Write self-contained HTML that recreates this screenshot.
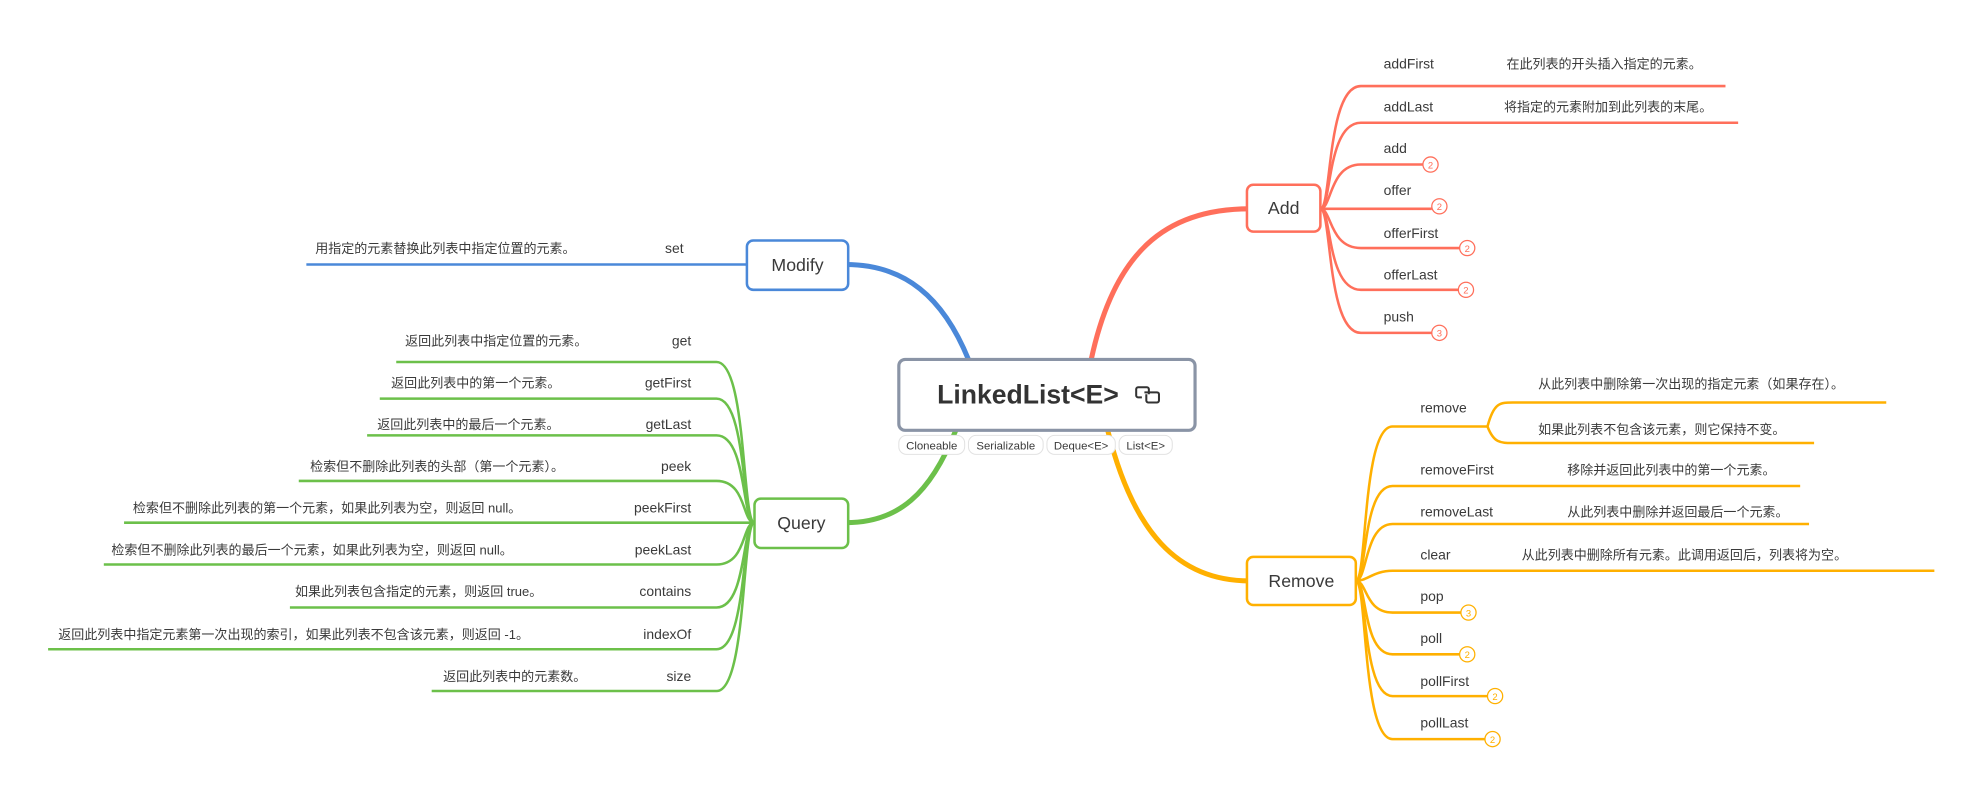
<!DOCTYPE html>
<html><head><meta charset="utf-8"><style>
html,body{margin:0;padding:0;background:#fff;width:1985px;height:791px;overflow:hidden}
svg{display:block}
text{font-family:"Liberation Sans","Noto Sans CJK SC",sans-serif;fill:#3a3a3a}
.l{font-size:11px}
.d{font-size:10.3px}
.b{font-size:7.5px;text-anchor:middle}
</style></head><body>
<svg width="1985" height="791" viewBox="0 0 1568 625" preserveAspectRatio="none" xmlns="http://www.w3.org/2000/svg">
<!-- main branches -->
<path d="M862,284 C880,200 920,165 987,165" stroke="#FF6F5B" stroke-width="4" fill="none"/>
<path d="M875,340 C895,420 930,459 987,459" stroke="#FFB000" stroke-width="4" fill="none"/>
<path d="M765,284 C745,235 715,209 668,209" stroke="#4A88D9" stroke-width="4" fill="none"/>
<path d="M755,340 C735,390 710,413 668,413" stroke="#6CC04A" stroke-width="4" fill="none"/>

<!-- Add children -->
<g stroke="#FF6F5B" stroke-width="2" fill="none">
<path d="M1043,165 C1052,165 1048,68 1075,68 L1363,68"/>
<path d="M1043,165 C1052,165 1048,97 1075,97 L1373,97"/>
<path d="M1043,165 C1052,165 1050,130 1075,130 L1124,130"/>
<path d="M1043,165 L1131,165"/>
<path d="M1043,165 C1052,165 1050,196 1075,196 L1153,196"/>
<path d="M1043,165 C1052,165 1048,229 1075,229 L1152,229"/>
<path d="M1043,165 C1052,165 1048,263 1075,263 L1131,263"/>
</g>
<g stroke="#FF6F5B" stroke-width="1" fill="#fff">
<circle cx="1130" cy="130" r="6"/><circle cx="1137" cy="163" r="6"/><circle cx="1159" cy="196" r="6"/><circle cx="1158" cy="229" r="6"/><circle cx="1137" cy="263" r="6"/>
</g>
<text class="b" x="1130" y="133" style="fill:#FF6F5B">2</text><text class="b" x="1137" y="166" style="fill:#FF6F5B">2</text><text class="b" x="1159" y="199" style="fill:#FF6F5B">2</text><text class="b" x="1158" y="232" style="fill:#FF6F5B">2</text><text class="b" x="1137" y="266" style="fill:#FF6F5B">3</text>
<text class="l" x="1093" y="54">addFirst</text><text class="d" x="1190" y="54">在此列表的开头插入指定的元素。</text>
<text class="l" x="1093" y="88">addLast</text><text class="d" x="1188" y="88">将指定的元素附加到此列表的末尾。</text>
<text class="l" x="1093" y="121">add</text>
<text class="l" x="1093" y="154">offer</text>
<text class="l" x="1093" y="188">offerFirst</text>
<text class="l" x="1093" y="221">offerLast</text>
<text class="l" x="1093" y="254">push</text>
<rect x="985" y="146" width="58" height="37" rx="5" fill="#fff" stroke="#FF6F5B" stroke-width="2"/>
<text x="1014" y="169" text-anchor="middle" style="font-size:14px">Add</text>

<!-- Remove children -->
<g stroke="#FFB000" stroke-width="2" fill="none">
<path d="M1071,459 C1080,459 1076,337 1100,337 L1175,337"/>
<path d="M1175,337 C1180,318 1185,318 1195,318 L1490,318"/>
<path d="M1175,337 C1180,350 1185,350 1195,350 L1433,350"/>
<path d="M1071,459 C1080,459 1076,384 1100,384 L1422,384"/>
<path d="M1071,459 C1080,459 1078,414 1100,414 L1429,414"/>
<path d="M1071,459 C1080,459 1085,451 1100,451 L1528,451"/>
<path d="M1071,459 C1080,459 1078,484 1100,484 L1154,484"/>
<path d="M1071,459 C1080,459 1076,517 1100,517 L1153,517"/>
<path d="M1071,459 C1080,459 1076,550 1100,550 L1175,550"/>
<path d="M1071,459 C1080,459 1076,584 1100,584 L1173,584"/>
</g>
<g stroke="#FFB000" stroke-width="1" fill="#fff">
<circle cx="1160" cy="484" r="6"/><circle cx="1159" cy="517" r="6"/><circle cx="1181" cy="550" r="6"/><circle cx="1179" cy="584" r="6"/>
</g>
<text class="b" x="1160" y="487" style="fill:#FFB000">3</text><text class="b" x="1159" y="520" style="fill:#FFB000">2</text><text class="b" x="1181" y="553" style="fill:#FFB000">2</text><text class="b" x="1179" y="587" style="fill:#FFB000">2</text>
<text class="l" x="1122" y="326">remove</text>
<text class="d" x="1215" y="307">从此列表中删除第一次出现的指定元素（如果存在）。</text>
<text class="d" x="1215" y="343">如果此列表不包含该元素，则它保持不变。</text>
<text class="l" x="1122" y="375">removeFirst</text><text class="d" x="1238" y="375">移除并返回此列表中的第一个元素。</text>
<text class="l" x="1122" y="408">removeLast</text><text class="d" x="1238" y="408">从此列表中删除并返回最后一个元素。</text>
<text class="l" x="1122" y="442">clear</text><text class="d" x="1202" y="442">从此列表中删除所有元素。此调用返回后，列表将为空。</text>
<text class="l" x="1122" y="475">pop</text>
<text class="l" x="1122" y="508">poll</text>
<text class="l" x="1122" y="542">pollFirst</text>
<text class="l" x="1122" y="575">pollLast</text>
<rect x="985" y="440" width="86" height="38" rx="5" fill="#fff" stroke="#FFB000" stroke-width="2"/>
<text x="1028" y="464" text-anchor="middle" style="font-size:14px">Remove</text>

<!-- Modify -->
<path d="M590,209 L242,209" stroke="#4A88D9" stroke-width="2" fill="none"/>
<text class="l" x="540" y="200" text-anchor="end">set</text>
<text class="d" x="249" y="200">用指定的元素替换此列表中指定位置的元素。</text>
<rect x="590" y="190" width="80" height="39" rx="5" fill="#fff" stroke="#4A88D9" stroke-width="2"/>
<text x="630" y="214" text-anchor="middle" style="font-size:14px">Modify</text>

<!-- Query -->
<g stroke="#6CC04A" stroke-width="2" fill="none">
<path d="M596,413 C586,413 590,286 566,286 L313,286"/>
<path d="M596,413 C586,413 590,315 566,315 L300,315"/>
<path d="M596,413 C586,413 590,344 566,344 L290,344"/>
<path d="M596,413 C586,413 590,380 566,380 L236,380"/>
<path d="M596,413 L98,413"/>
<path d="M596,413 C586,413 590,446 566,446 L82,446"/>
<path d="M596,413 C586,413 590,480 566,480 L229,480"/>
<path d="M596,413 C586,413 590,513 566,513 L38,513"/>
<path d="M596,413 C586,413 590,546 566,546 L341,546"/>
</g>
<text class="l" x="546" y="273" text-anchor="end">get</text>
<text class="l" x="546" y="306" text-anchor="end">getFirst</text>
<text class="l" x="546" y="339" text-anchor="end">getLast</text>
<text class="l" x="546" y="372" text-anchor="end">peek</text>
<text class="l" x="546" y="405" text-anchor="end">peekFirst</text>
<text class="l" x="546" y="438" text-anchor="end">peekLast</text>
<text class="l" x="546" y="471" text-anchor="end">contains</text>
<text class="l" x="546" y="505" text-anchor="end">indexOf</text>
<text class="l" x="546" y="538" text-anchor="end">size</text>
<text class="d" x="320" y="273">返回此列表中指定位置的元素。</text>
<text class="d" x="309" y="306">返回此列表中的第一个元素。</text>
<text class="d" x="298" y="339">返回此列表中的最后一个元素。</text>
<text class="d" x="245" y="372">检索但不删除此列表的头部（第一个元素）。</text>
<text class="d" x="105" y="405">检索但不删除此列表的第一个元素，如果此列表为空，则返回 null。</text>
<text class="d" x="88" y="438">检索但不删除此列表的最后一个元素，如果此列表为空，则返回 null。</text>
<text class="d" x="233" y="471">如果此列表包含指定的元素，则返回 true。</text>
<text class="d" x="46" y="505">返回此列表中指定元素第一次出现的索引，如果此列表不包含该元素，则返回 -1。</text>
<text class="d" x="350" y="538">返回此列表中的元素数。</text>
<rect x="596" y="394" width="74" height="39" rx="5" fill="#fff" stroke="#6CC04A" stroke-width="2"/>
<text x="633" y="418" text-anchor="middle" style="font-size:14px">Query</text>

<!-- center -->
<rect x="710" y="284" width="234" height="56" rx="5" fill="#fff" stroke="#8A94A6" stroke-width="2.5"/>
<text x="812" y="319" text-anchor="middle" style="font-size:21px;font-weight:bold;fill:#333">LinkedList&lt;E&gt;</text>
<g stroke="#333" stroke-width="1.6" fill="none">
<path d="M902,314 h-3 a1.5,1.5 0 0 1 -1.5,-1.5 v-5 a1.5,1.5 0 0 1 1.5,-1.5 h7 a1.5,1.5 0 0 1 1.5,1.5 v4"/>
<path d="M904,310 h10 a1.5,1.5 0 0 1 1.5,1.5 v5 a1.5,1.5 0 0 1 -1.5,1.5 h-7 a1.5,1.5 0 0 1 -1.5,-1.5 v-5"/>
</g>
<g fill="#fff" stroke="#e2e2e2" stroke-width="0.8">
<rect x="710" y="344" width="52" height="15" rx="6"/>
<rect x="765" y="344" width="59" height="15" rx="6"/>
<rect x="827" y="344" width="54" height="15" rx="6"/>
<rect x="884" y="344" width="42" height="15" rx="6"/>
</g>
<text x="736" y="355" text-anchor="middle" style="font-size:9px">Cloneable</text>
<text x="794.5" y="355" text-anchor="middle" style="font-size:9px">Serializable</text>
<text x="854" y="355" text-anchor="middle" style="font-size:9px">Deque&lt;E&gt;</text>
<text x="905" y="355" text-anchor="middle" style="font-size:9px">List&lt;E&gt;</text>
</svg>
</body></html>
